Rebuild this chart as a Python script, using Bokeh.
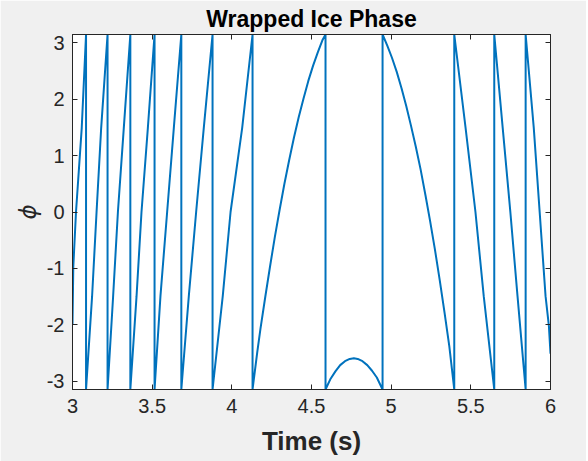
import numpy as np
from bokeh.plotting import figure
from bokeh.models import (ColumnDataSource, LinearAxis, FixedTicker, Range1d)
from bokeh.embed import file_html
from bokeh.resources import INLINE

PI = 3.1416

# ---- data (time in s, wrapped phase in rad) ----
time_s = [
    # start, rising fast
    3.000, 3.005, 3.022, 3.058, 3.085,
    3.085, 3.123, 3.151, 3.180, 3.220,
    3.220, 3.255, 3.285, 3.322, 3.363,
    3.363, 3.402, 3.433, 3.473, 3.515,
    3.515, 3.552, 3.594, 3.636, 3.683,
    3.683, 3.730, 3.776, 3.824, 3.879,
    3.879, 3.943, 3.992, 4.065, 4.130,
    # long rise
    4.130, 4.160, 4.180, 4.210, 4.240, 4.270, 4.300, 4.330, 4.360, 4.390,
    4.420, 4.450, 4.480, 4.510, 4.540, 4.570, 4.588,
    # small arch at the bottom
    4.588, 4.620, 4.650, 4.680, 4.710, 4.740, 4.766, 4.790, 4.820, 4.850,
    4.880, 4.910, 4.946,
    # long fall
    4.946, 4.975, 5.005, 5.035, 5.065, 5.095, 5.125, 5.155, 5.185, 5.215,
    5.245, 5.275, 5.305, 5.335, 5.365, 5.396,
    # falling fast
    5.396, 5.467, 5.529, 5.581, 5.647,
    5.647, 5.700, 5.748, 5.793, 5.844,
    5.844, 5.895, 5.932, 5.969, 5.990, 6.000,
]
phase = [
    -1.98, -0.97, 0.00, 1.49, 3.1416,
    -3.1416, -1.49, 0.00, 1.49, 3.1416,
    -3.1416, -1.49, 0.00, 1.49, 3.1416,
    -3.1416, -1.49, 0.00, 1.49, 3.1416,
    -3.1416, -1.49, 0.00, 1.49, 3.1416,
    -3.1416, -1.49, 0.00, 1.49, 3.1416,
    -3.1416, -1.49, 0.00, 1.49, 3.1416,
    -3.1416, -2.47, -2.06, -1.50, -0.96, -0.44, 0.04, 0.50, 0.92, 1.32,
    1.68, 2.01, 2.32, 2.59, 2.83, 3.05, 3.1416,
    -3.1416, -2.95, -2.82, -2.71, -2.64, -2.60, -2.59, -2.60, -2.64, -2.71,
    -2.81, -2.93, -3.1416,
    3.1416, 2.95, 2.73, 2.48, 2.19, 1.87, 1.52, 1.15, 0.75, 0.30,
    -0.17, -0.67, -1.21, -1.78, -2.38, -3.1416,
    3.1416, 1.49, 0.00, -1.49, -3.1416,
    3.1416, 1.49, 0.00, -1.49, -3.1416,
    3.1416, 1.49, 0.00, -1.49, -2.02, -2.51,
]

x_ticks = [3, 3.5, 4, 4.5, 5, 5.5, 6]
x_tick_labels = ["3", "3.5", "4", "4.5", "5", "5.5", "6"]
y_ticks = [-3, -2, -1, 0, 1, 2, 3]
y_tick_labels = ["-3", "-2", "-1", "0", "1", "2", "3"]

title_text = "Wrapped Ice Phase"
x_label = "Time (s)"
y_label = "\u03d5"

AX = "#262626"
FONT = "Liberation Sans"

p = figure(width=586, height=461, x_range=Range1d(3, 6), y_range=Range1d(-PI, PI),
           output_backend="svg", toolbar_location=None,
           min_border_left=72, min_border_right=36, min_border_top=32, min_border_bottom=72)
p.xgrid.visible = False
p.ygrid.visible = False
p.background_fill_color = "white"
p.border_fill_color = "#f0f0f0"
p.outline_line_color = AX

p.title.text = title_text
p.title.align = "center"
p.title.text_font = FONT
p.title.text_font_size = "23px"
p.title.text_font_style = "bold"
p.title.text_color = "black"
p.title.standoff = 6

p.add_layout(LinearAxis(), "above")
p.add_layout(LinearAxis(), "right")


def key(v):
    return int(v) if float(v).is_integer() else v


for ax in p.xaxis:
    ax.ticker = FixedTicker(ticks=x_ticks)
    ax.major_label_overrides = {key(v): s for v, s in zip(x_ticks, x_tick_labels)}
for ax in p.yaxis:
    ax.ticker = FixedTicker(ticks=y_ticks)
    ax.major_label_overrides = {key(v): s for v, s in zip(y_ticks, y_tick_labels)}

for ax in list(p.xaxis) + list(p.yaxis):
    ax.axis_line_color = AX
    ax.major_tick_line_color = AX
    ax.major_tick_in = 5
    ax.major_tick_out = 0
    ax.minor_tick_line_color = None
    ax.major_label_text_font = FONT
    ax.major_label_text_font_size = "20px"
    ax.major_label_text_color = AX
    ax.major_label_standoff = 8

for ax in (p.above[-1], p.right[0]):
    ax.major_label_text_font_size = "0px"
    ax.major_label_standoff = 0

bx = p.below[0]
bx.major_label_standoff = 9
bx.axis_label = x_label
bx.axis_label_text_font = FONT
bx.axis_label_text_font_size = "26px"
bx.axis_label_text_font_style = "bold"
bx.axis_label_text_color = AX
bx.axis_label_standoff = 10

ly = p.left[0]
ly.axis_label = y_label
ly.axis_label_text_font = "DejaVu Sans"
ly.axis_label_text_font_size = "23px"
ly.axis_label_text_font_style = "italic"
ly.axis_label_text_color = AX
ly.axis_label_standoff = 3

src = ColumnDataSource(data=dict(t=time_s, phi=phase))
p.line("t", "phi", source=src, line_color="#0072BD", line_width=2)

open("out.html", "w").write(file_html(p, INLINE))
